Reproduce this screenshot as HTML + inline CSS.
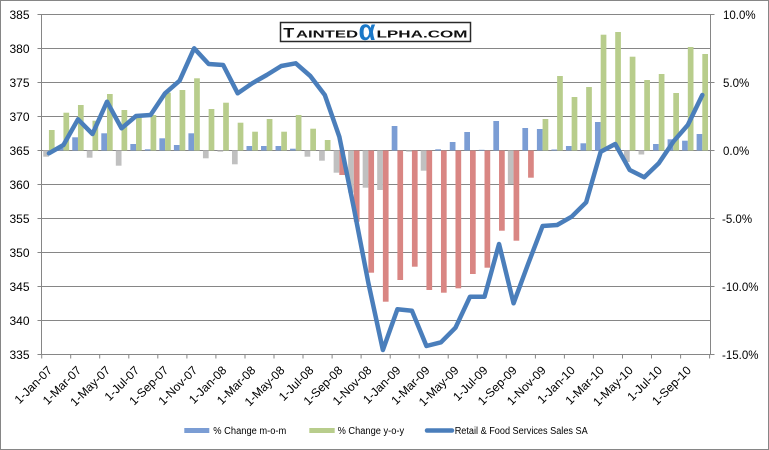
<!DOCTYPE html>
<html><head><meta charset="utf-8"><style>
html,body{margin:0;padding:0;background:#fff;}
svg{display:block;}
text{font-family:"Liberation Sans",sans-serif;}
</style></head><body>
<svg width="769" height="450" viewBox="0 0 769 450" xmlns="http://www.w3.org/2000/svg">
<rect x="0" y="0" width="769" height="450" fill="#ffffff"/>
<rect x="0.5" y="0.5" width="768" height="449" fill="none" stroke="#868686" stroke-width="1"/>
<!-- gridlines -->
<g stroke="#868686" stroke-width="1">
<line x1="41.5" y1="14.5" x2="710.5" y2="14.5"/>
<line x1="41.5" y1="48.5" x2="710.5" y2="48.5"/>
<line x1="41.5" y1="82.5" x2="710.5" y2="82.5"/>
<line x1="41.5" y1="116.5" x2="710.5" y2="116.5"/>
<line x1="41.5" y1="150.5" x2="710.5" y2="150.5"/>
<line x1="41.5" y1="184.5" x2="710.5" y2="184.5"/>
<line x1="41.5" y1="218.5" x2="710.5" y2="218.5"/>
<line x1="41.5" y1="252.5" x2="710.5" y2="252.5"/>
<line x1="41.5" y1="286.5" x2="710.5" y2="286.5"/>
<line x1="41.5" y1="320.5" x2="710.5" y2="320.5"/>
<line x1="41.5" y1="354.5" x2="710.5" y2="354.5"/>
<!-- axes -->
<line x1="41.5" y1="14.5" x2="41.5" y2="354.5"/>
<line x1="710.5" y1="14.5" x2="710.5" y2="354.5"/>
<!-- left ticks -->
<line x1="37.5" y1="14.5" x2="41.5" y2="14.5"/>
<line x1="37.5" y1="48.5" x2="41.5" y2="48.5"/>
<line x1="37.5" y1="82.5" x2="41.5" y2="82.5"/>
<line x1="37.5" y1="116.5" x2="41.5" y2="116.5"/>
<line x1="37.5" y1="150.5" x2="41.5" y2="150.5"/>
<line x1="37.5" y1="184.5" x2="41.5" y2="184.5"/>
<line x1="37.5" y1="218.5" x2="41.5" y2="218.5"/>
<line x1="37.5" y1="252.5" x2="41.5" y2="252.5"/>
<line x1="37.5" y1="286.5" x2="41.5" y2="286.5"/>
<line x1="37.5" y1="320.5" x2="41.5" y2="320.5"/>
<line x1="37.5" y1="354.5" x2="41.5" y2="354.5"/>
<!-- right ticks -->
<line x1="710.5" y1="14.5" x2="714.5" y2="14.5"/>
<line x1="710.5" y1="82.5" x2="714.5" y2="82.5"/>
<line x1="710.5" y1="150.5" x2="714.5" y2="150.5"/>
<line x1="710.5" y1="218.5" x2="714.5" y2="218.5"/>
<line x1="710.5" y1="286.5" x2="714.5" y2="286.5"/>
<line x1="710.5" y1="354.5" x2="714.5" y2="354.5"/>
<!-- bottom ticks -->
<line x1="41.7" y1="354.5" x2="41.7" y2="358.5"/>
<line x1="70.7" y1="354.5" x2="70.7" y2="358.5"/>
<line x1="99.7" y1="354.5" x2="99.7" y2="358.5"/>
<line x1="128.8" y1="354.5" x2="128.8" y2="358.5"/>
<line x1="157.8" y1="354.5" x2="157.8" y2="358.5"/>
<line x1="186.9" y1="354.5" x2="186.9" y2="358.5"/>
<line x1="215.9" y1="354.5" x2="215.9" y2="358.5"/>
<line x1="245.0" y1="354.5" x2="245.0" y2="358.5"/>
<line x1="274.0" y1="354.5" x2="274.0" y2="358.5"/>
<line x1="303.0" y1="354.5" x2="303.0" y2="358.5"/>
<line x1="332.1" y1="354.5" x2="332.1" y2="358.5"/>
<line x1="361.1" y1="354.5" x2="361.1" y2="358.5"/>
<line x1="390.2" y1="354.5" x2="390.2" y2="358.5"/>
<line x1="419.2" y1="354.5" x2="419.2" y2="358.5"/>
<line x1="448.2" y1="354.5" x2="448.2" y2="358.5"/>
<line x1="477.3" y1="354.5" x2="477.3" y2="358.5"/>
<line x1="506.3" y1="354.5" x2="506.3" y2="358.5"/>
<line x1="535.4" y1="354.5" x2="535.4" y2="358.5"/>
<line x1="564.4" y1="354.5" x2="564.4" y2="358.5"/>
<line x1="593.4" y1="354.5" x2="593.4" y2="358.5"/>
<line x1="622.5" y1="354.5" x2="622.5" y2="358.5"/>
<line x1="651.5" y1="354.5" x2="651.5" y2="358.5"/>
<line x1="680.6" y1="354.5" x2="680.6" y2="358.5"/>
<line x1="709.6" y1="354.5" x2="709.6" y2="358.5"/>
</g>

<!-- m-o-m bars -->
<g>
<rect x="43.22" y="150.5" width="5.7" height="6.2" fill="#c0c0c0"/>
<rect x="57.74" y="148" width="5.7" height="2.5" fill="#7b9dd4"/>
<rect x="72.26" y="137.3" width="5.7" height="13.2" fill="#7b9dd4"/>
<rect x="86.78" y="150.5" width="5.7" height="7.2" fill="#c0c0c0"/>
<rect x="101.30" y="133.3" width="5.7" height="17.2" fill="#7b9dd4"/>
<rect x="115.82" y="150.5" width="5.7" height="15.2" fill="#c0c0c0"/>
<rect x="130.34" y="144" width="5.7" height="6.5" fill="#7b9dd4"/>
<rect x="144.86" y="149.3" width="5.7" height="1.2" fill="#7b9dd4"/>
<rect x="159.38" y="138.3" width="5.7" height="12.2" fill="#7b9dd4"/>
<rect x="173.90" y="145" width="5.7" height="5.5" fill="#7b9dd4"/>
<rect x="188.42" y="133.3" width="5.7" height="17.2" fill="#7b9dd4"/>
<rect x="202.94" y="150.5" width="5.7" height="7.8" fill="#c0c0c0"/>
<rect x="217.46" y="150.5" width="5.7" height="1.2" fill="#c0c0c0"/>
<rect x="231.98" y="150.5" width="5.7" height="13.8" fill="#c0c0c0"/>
<rect x="246.50" y="146" width="5.7" height="4.5" fill="#7b9dd4"/>
<rect x="261.02" y="146" width="5.7" height="4.5" fill="#7b9dd4"/>
<rect x="275.54" y="146" width="5.7" height="4.5" fill="#7b9dd4"/>
<rect x="290.06" y="148.7" width="5.7" height="1.8" fill="#7b9dd4"/>
<rect x="304.58" y="150.5" width="5.7" height="6.2" fill="#c0c0c0"/>
<rect x="319.10" y="150.5" width="5.7" height="10.2" fill="#c0c0c0"/>
<rect x="333.62" y="150.5" width="5.7" height="22.2" fill="#c0c0c0"/>
<rect x="348.14" y="150.5" width="5.7" height="42.2" fill="#c0c0c0"/>
<rect x="362.66" y="150.5" width="5.7" height="37.2" fill="#c0c0c0"/>
<rect x="377.18" y="150.5" width="5.7" height="39.5" fill="#c0c0c0"/>
<rect x="391.70" y="126" width="5.7" height="24.5" fill="#7b9dd4"/>
<rect x="406.22" y="150.5" width="5.7" height="1.2" fill="#c0c0c0"/>
<rect x="420.74" y="150.5" width="5.7" height="20.2" fill="#c0c0c0"/>
<rect x="435.26" y="149.3" width="5.7" height="1.2" fill="#7b9dd4"/>
<rect x="449.78" y="142" width="5.7" height="8.5" fill="#7b9dd4"/>
<rect x="464.30" y="132" width="5.7" height="18.5" fill="#7b9dd4"/>
<rect x="478.82" y="149.8" width="5.7" height="0.7" fill="#7b9dd4"/>
<rect x="493.34" y="121" width="5.7" height="29.5" fill="#7b9dd4"/>
<rect x="507.86" y="150.5" width="5.7" height="33.5" fill="#c0c0c0"/>
<rect x="522.38" y="128" width="5.7" height="22.5" fill="#7b9dd4"/>
<rect x="536.90" y="129" width="5.7" height="21.5" fill="#7b9dd4"/>
<rect x="551.42" y="149.5" width="5.7" height="1" fill="#7b9dd4"/>
<rect x="565.94" y="146" width="5.7" height="4.5" fill="#7b9dd4"/>
<rect x="580.46" y="143.3" width="5.7" height="7.2" fill="#7b9dd4"/>
<rect x="594.98" y="122" width="5.7" height="28.5" fill="#7b9dd4"/>
<rect x="624.02" y="150.5" width="5.7" height="11.5" fill="#c0c0c0"/>
<rect x="638.54" y="150.5" width="5.7" height="4" fill="#c0c0c0"/>
<rect x="653.06" y="144" width="5.7" height="6.5" fill="#7b9dd4"/>
<rect x="667.58" y="139.3" width="5.7" height="11.2" fill="#7b9dd4"/>
<rect x="682.10" y="140.7" width="5.7" height="9.8" fill="#7b9dd4"/>
<rect x="696.62" y="134" width="5.7" height="16.5" fill="#7b9dd4"/>
</g>

<!-- y-o-y bars -->
<g>
<rect x="48.92" y="130" width="5.7" height="20.5" fill="#b8cd8c"/>
<rect x="63.44" y="112.7" width="5.7" height="37.8" fill="#b8cd8c"/>
<rect x="77.96" y="105" width="5.7" height="45.5" fill="#b8cd8c"/>
<rect x="92.48" y="120.7" width="5.7" height="29.8" fill="#b8cd8c"/>
<rect x="107.00" y="94" width="5.7" height="56.5" fill="#b8cd8c"/>
<rect x="121.52" y="110" width="5.7" height="40.5" fill="#b8cd8c"/>
<rect x="136.04" y="116.5" width="5.7" height="34" fill="#b8cd8c"/>
<rect x="150.56" y="115" width="5.7" height="35.5" fill="#b8cd8c"/>
<rect x="165.08" y="92.7" width="5.7" height="57.8" fill="#b8cd8c"/>
<rect x="179.60" y="90" width="5.7" height="60.5" fill="#b8cd8c"/>
<rect x="194.12" y="78.3" width="5.7" height="72.2" fill="#b8cd8c"/>
<rect x="208.64" y="109" width="5.7" height="41.5" fill="#b8cd8c"/>
<rect x="223.16" y="102.7" width="5.7" height="47.8" fill="#b8cd8c"/>
<rect x="237.68" y="122.7" width="5.7" height="27.8" fill="#b8cd8c"/>
<rect x="252.20" y="131.7" width="5.7" height="18.8" fill="#b8cd8c"/>
<rect x="266.72" y="119" width="5.7" height="31.5" fill="#b8cd8c"/>
<rect x="281.24" y="131.7" width="5.7" height="18.8" fill="#b8cd8c"/>
<rect x="295.76" y="115" width="5.7" height="35.5" fill="#b8cd8c"/>
<rect x="310.28" y="128.7" width="5.7" height="21.8" fill="#b8cd8c"/>
<rect x="324.80" y="140" width="5.7" height="10.5" fill="#b8cd8c"/>
<rect x="339.32" y="150.5" width="5.7" height="24.5" fill="#d98683"/>
<rect x="353.84" y="150.5" width="5.7" height="71.2" fill="#d98683"/>
<rect x="368.36" y="150.5" width="5.7" height="122.2" fill="#d98683"/>
<rect x="382.88" y="150.5" width="5.7" height="151.2" fill="#d98683"/>
<rect x="397.40" y="150.5" width="5.7" height="129.5" fill="#d98683"/>
<rect x="411.92" y="150.5" width="5.7" height="116.2" fill="#d98683"/>
<rect x="426.44" y="150.5" width="5.7" height="139.5" fill="#d98683"/>
<rect x="440.96" y="150.5" width="5.7" height="142.2" fill="#d98683"/>
<rect x="455.48" y="150.5" width="5.7" height="137.8" fill="#d98683"/>
<rect x="470.00" y="150.5" width="5.7" height="123.5" fill="#d98683"/>
<rect x="484.52" y="150.5" width="5.7" height="117.2" fill="#d98683"/>
<rect x="499.04" y="150.5" width="5.7" height="80.2" fill="#d98683"/>
<rect x="513.56" y="150.5" width="5.7" height="90.2" fill="#d98683"/>
<rect x="528.08" y="150.5" width="5.7" height="27.2" fill="#d98683"/>
<rect x="542.60" y="119" width="5.7" height="31.5" fill="#b8cd8c"/>
<rect x="557.12" y="76" width="5.7" height="74.5" fill="#b8cd8c"/>
<rect x="571.64" y="97" width="5.7" height="53.5" fill="#b8cd8c"/>
<rect x="586.16" y="87" width="5.7" height="63.5" fill="#b8cd8c"/>
<rect x="600.68" y="34.7" width="5.7" height="115.8" fill="#b8cd8c"/>
<rect x="615.20" y="32" width="5.7" height="118.5" fill="#b8cd8c"/>
<rect x="629.72" y="56.7" width="5.7" height="93.8" fill="#b8cd8c"/>
<rect x="644.24" y="80" width="5.7" height="70.5" fill="#b8cd8c"/>
<rect x="658.76" y="74" width="5.7" height="76.5" fill="#b8cd8c"/>
<rect x="673.28" y="93" width="5.7" height="57.5" fill="#b8cd8c"/>
<rect x="687.80" y="47" width="5.7" height="103.5" fill="#b8cd8c"/>
<rect x="702.32" y="54" width="5.7" height="96.5" fill="#b8cd8c"/>
</g>

<!-- line -->
<polyline fill="none" stroke="#4a7ebb" stroke-width="4.5" stroke-linejoin="round" stroke-linecap="round"
points="48.93,153.3 63.45,145 77.97,119.3 92.49,134 107.01,101.7 121.53,128.3 136.05,116 150.57,115 165.09,93.3 179.61,80.7 194.13,48.3 208.65,64 223.17,65 237.69,93.3 252.21,83.3 266.73,75 281.25,66 295.77,63.3 310.29,76 324.81,95 339.33,136.7 353.85,208 368.37,283 382.89,350 397.41,309.3 411.93,310.7 426.45,346 440.97,342.3 455.49,327.7 470.01,296.7 484.53,296.7 499.05,244 513.57,303.3 528.09,264 542.61,226 557.13,225 571.65,216.7 586.17,202.3 600.69,151.7 615.21,144 629.73,170 644.25,177.3 658.77,163.3 673.29,141.7 687.81,125 702.33,95"/>

<!-- left axis labels -->
<g font-size="12" fill="#000" text-anchor="end">
<text x="29.5" y="19">385</text>
<text x="29.5" y="53">380</text>
<text x="29.5" y="87">375</text>
<text x="29.5" y="121">370</text>
<text x="29.5" y="155">365</text>
<text x="29.5" y="189">360</text>
<text x="29.5" y="223">355</text>
<text x="29.5" y="257">350</text>
<text x="29.5" y="291">345</text>
<text x="29.5" y="325">340</text>
<text x="29.5" y="359">335</text>
</g>
<!-- right axis labels -->
<g font-size="11.5" fill="#000">
<text x="723" y="19">10.0%</text>
<text x="723" y="87">5.0%</text>
<text x="723" y="155">0.0%</text>
<text x="722" y="223">-5.0%</text>
<text x="722" y="291">-10.0%</text>
<text x="722" y="359">-15.0%</text>
</g>

<!-- x labels -->
<g font-size="12" fill="#000" text-anchor="end">
<text transform="translate(52.9,371) rotate(-45)">1-Jan-07</text>
<text transform="translate(82.0,371) rotate(-45)">1-Mar-07</text>
<text transform="translate(111.0,371) rotate(-45)">1-May-07</text>
<text transform="translate(140.0,371) rotate(-45)">1-Jul-07</text>
<text transform="translate(169.1,371) rotate(-45)">1-Sep-07</text>
<text transform="translate(198.1,371) rotate(-45)">1-Nov-07</text>
<text transform="translate(227.2,371) rotate(-45)">1-Jan-08</text>
<text transform="translate(256.2,371) rotate(-45)">1-Mar-08</text>
<text transform="translate(285.3,371) rotate(-45)">1-May-08</text>
<text transform="translate(314.3,371) rotate(-45)">1-Jul-08</text>
<text transform="translate(343.3,371) rotate(-45)">1-Sep-08</text>
<text transform="translate(372.4,371) rotate(-45)">1-Nov-08</text>
<text transform="translate(401.4,371) rotate(-45)">1-Jan-09</text>
<text transform="translate(430.5,371) rotate(-45)">1-Mar-09</text>
<text transform="translate(459.5,371) rotate(-45)">1-May-09</text>
<text transform="translate(488.5,371) rotate(-45)">1-Jul-09</text>
<text transform="translate(517.6,371) rotate(-45)">1-Sep-09</text>
<text transform="translate(546.6,371) rotate(-45)">1-Nov-09</text>
<text transform="translate(575.7,371) rotate(-45)">1-Jan-10</text>
<text transform="translate(604.7,371) rotate(-45)">1-Mar-10</text>
<text transform="translate(633.7,371) rotate(-45)">1-May-10</text>
<text transform="translate(662.8,371) rotate(-45)">1-Jul-10</text>
<text transform="translate(691.8,371) rotate(-45)">1-Sep-10</text>
</g>

<!-- legend -->
<rect x="184.3" y="428" width="25" height="5" fill="#7b9dd4"/>
<text x="213.3" y="434" font-size="10" fill="#000" textLength="73" lengthAdjust="spacingAndGlyphs">% Change m-o-m</text>
<rect x="309.3" y="428" width="25.4" height="5" fill="#b8cd8c"/>
<text x="337.6" y="434" font-size="10" fill="#000" textLength="66.5" lengthAdjust="spacingAndGlyphs">% Change y-o-y</text>
<line x1="427" y1="430.5" x2="452" y2="430.5" stroke="#4a7ebb" stroke-width="4.5" stroke-linecap="round"/>
<text x="454.7" y="434" font-size="10" fill="#000" textLength="133" lengthAdjust="spacingAndGlyphs">Retail &amp; Food Services Sales SA</text>

<!-- logo -->
<rect x="280.5" y="22.5" width="190" height="19" fill="#ffffff" stroke="#2a2a2a" stroke-width="1.5"/>
<text x="283.3" y="37.5" font-size="14" font-weight="bold" fill="#111" textLength="11" lengthAdjust="spacingAndGlyphs">T</text>
<text x="296" y="37.5" font-size="10.5" font-weight="bold" fill="#111" textLength="62" lengthAdjust="spacingAndGlyphs">AINTED</text>
<text x="358.5" y="40" font-size="30" font-weight="bold" fill="#1a78c8" textLength="17" lengthAdjust="spacingAndGlyphs">α</text>
<text x="376.5" y="37.5" font-size="10.5" font-weight="bold" fill="#111" textLength="91" lengthAdjust="spacingAndGlyphs">LPHA.COM</text>
</svg>
</body></html>
